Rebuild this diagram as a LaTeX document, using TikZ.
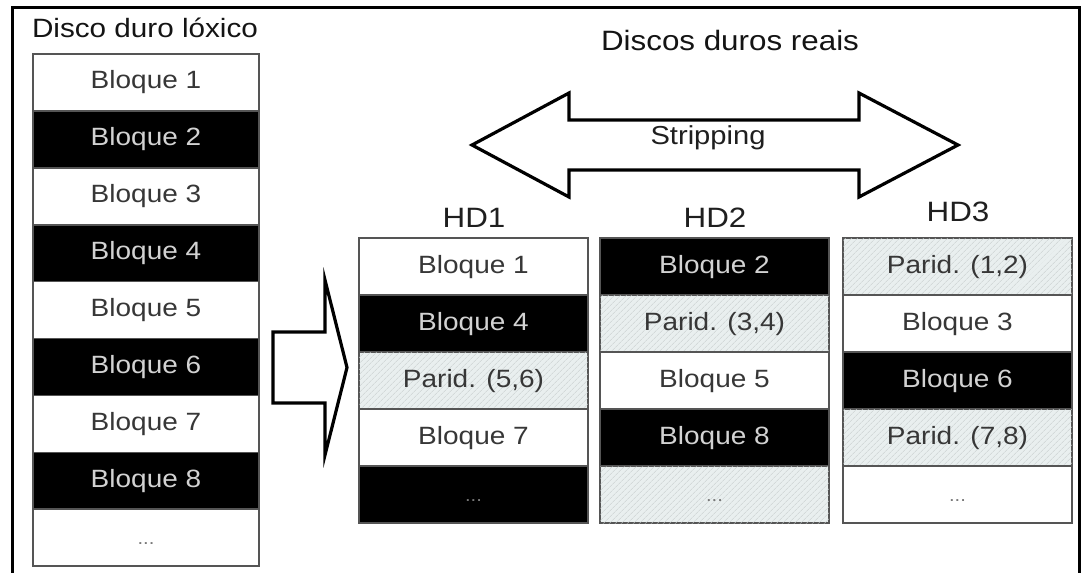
\documentclass[tikz,border=0pt]{standalone}
\usepackage{fontspec}
\setmainfont{Liberation Sans}[FakeStretch=1.12]
\usetikzlibrary{patterns.meta}
\definecolor{parfill}{RGB}{233,239,239}
\definecolor{hatchc}{RGB}{200,206,206}
\definecolor{edgec}{RGB}{85,85,85}
\definecolor{darktxt}{RGB}{55,55,55}
\definecolor{lighttxt}{RGB}{210,210,210}
\definecolor{dotc}{RGB}{120,120,120}
\newcommand{\celldots}{{\fontsize{18}{20}\selectfont\textcolor{dotc}{...}}}
\begin{document}
\begin{tikzpicture}[x=1pt,y=-1pt,
  cell/.style={draw=edgec, line width=1.6pt, inner sep=0pt,
    text height=18pt, text depth=5pt,
    font=\fontsize{25}{30}\selectfont},
  lcell/.style={cell, minimum width=226pt, minimum height=56.9pt},
  hcell/.style={cell, minimum width=229pt, minimum height=57pt},
  wcell/.style={fill=white, text=darktxt},
  bcell/.style={fill=black, text=lighttxt},
  pcell/.style={fill=parfill, text=darktxt,
    postaction={pattern={Lines[angle=45,distance=4pt,line width=0.5pt]}, pattern color=hatchc}},
  title/.style={font=\fontsize{26.5}{32}\selectfont, text=black!92},
  hdlabel/.style={font=\fontsize{28}{34}\selectfont, text=black!88},
  blockarrow/.style={draw=black, line width=3.2pt, line join=miter, fill=white}
]
\useasboundingbox (0,0) rectangle (1085,573);
% outer frame (open at bottom)
\draw[line width=3pt] (12,573) -- (12,7) -- (1079,7) -- (1079,573);

% titles
\node[title] (tl) at (145,28) {Disco duro lóxico};
\node[title, font=\fontsize{28}{34}\selectfont] (tr) at (730,40) {Discos duros reais};

% logical disk
\node[lcell,wcell] (L1) at (146,82.45) {Bloque 1};
\node[lcell,bcell] (L2) at (146,139.35) {Bloque 2};
\node[lcell,wcell] (L3) at (146,196.25) {Bloque 3};
\node[lcell,bcell] (L4) at (146,253.15) {Bloque 4};
\node[lcell,wcell] (L5) at (146,310.05) {Bloque 5};
\node[lcell,bcell] (L6) at (146,366.95) {Bloque 6};
\node[lcell,wcell] (L7) at (146,423.85) {Bloque 7};
\node[lcell,bcell] (L8) at (146,480.75) {Bloque 8};
\node[lcell,wcell] (L9) at (146,537.65) {\celldots};

% fat arrow to the right
\draw[blockarrow] (273,332) -- (325,332) -- (325,280) -- (347,367.5)
  -- (325,455) -- (325,403) -- (273,403) -- cycle;

% double arrow
\draw[blockarrow] (472,145) -- (569,93) -- (569,120) -- (859,120) -- (859,93)
  -- (958,145) -- (859,197) -- (859,170) -- (569,170) -- (569,197) -- cycle;
\node[font=\fontsize{26}{31}\selectfont, text=black!88] (strip) at (708,138) {Stripping};

% HD labels
\node[hdlabel] (hd1) at (474,218) {HD1};
\node[hdlabel] (hd2) at (715,218) {HD2};
\node[hdlabel] (hd3) at (958,212) {HD3};

% HD1
\node[hcell,wcell] (A1) at (473.5,266.5) {Bloque 1};
\node[hcell,bcell] (A2) at (473.5,323.5) {Bloque 4};
\node[hcell,pcell] (A3) at (473.5,380.5) {Parid. (5,6)};
\node[hcell,wcell] (A4) at (473.5,437.5) {Bloque 7};
\node[hcell,bcell] (A5) at (473.5,494.5) {\celldots};

% HD2
\node[hcell,bcell] (B1) at (714.5,266.5) {Bloque 2};
\node[hcell,pcell] (B2) at (714.5,323.5) {Parid. (3,4)};
\node[hcell,wcell] (B3) at (714.5,380.5) {Bloque 5};
\node[hcell,bcell] (B4) at (714.5,437.5) {Bloque 8};
\node[hcell,pcell] (B5) at (714.5,494.5) {\celldots};

% HD3
\node[hcell,pcell] (C1) at (957.5,266.5) {Parid. (1,2)};
\node[hcell,wcell] (C2) at (957.5,323.5) {Bloque 3};
\node[hcell,bcell] (C3) at (957.5,380.5) {Bloque 6};
\node[hcell,pcell] (C4) at (957.5,437.5) {Parid. (7,8)};
\node[hcell,wcell] (C5) at (957.5,494.5) {\celldots};
\end{tikzpicture}
\end{document}
